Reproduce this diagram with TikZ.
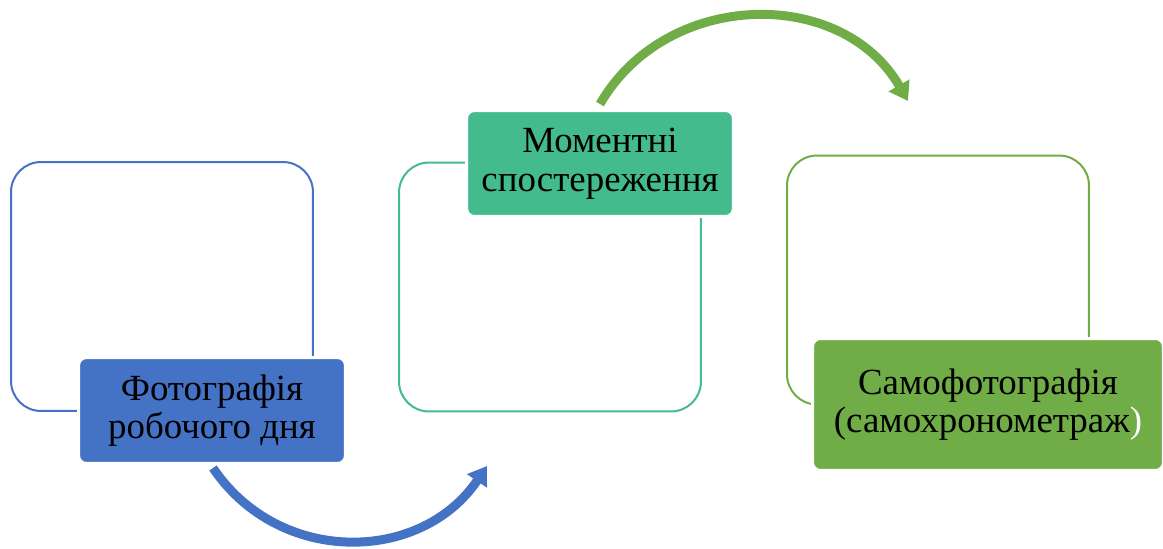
\documentclass[tikz,border=0pt]{standalone}
\usepackage{fontspec}
\setmainfont{Liberation Serif}
\usetikzlibrary{arrows.meta,positioning,calc}
\definecolor{blueA}{HTML}{4472C4}
\definecolor{tealA}{HTML}{44BB8C}
\definecolor{greenA}{HTML}{70AD47}

\begin{document}
\begin{tikzpicture}[x=0.02cm, y=-0.02cm,
    frame/.style={rectangle, rounded corners=0.6cm, line width=0.04cm,
      minimum width=6.04cm, minimum height=4.98cm},
    capbox/.style={rectangle, rounded corners=0.16cm, draw=white, line width=0.06cm,
      text=black, align=center, inner sep=0pt, font=\fontsize{21}{22}\selectfont},
    flow/.style={line width=0.18cm, looseness=1.1,
      -{Triangle[width=0.46cm, length=0.36cm]}}]
    \useasboundingbox (0,0) rectangle (1163,548);

    % Outline frames behind the captions
    \node[frame, draw=blueA] (frame1) at (162,286.5) {};
    \node[frame, draw=tealA] (frame2) at (550,287) {};
    \node[frame, draw=greenA] (frame3) at (938,280) {};

    % Captions
    \node[capbox, fill=blueA, minimum width=5.34cm, minimum height=2.12cm]
      (cap1) at (212,410.5) {Фотографія\\робочого дня};
    \node[capbox, fill=tealA, minimum width=5.34cm, minimum height=2.12cm]
      (cap2) at (600,163.5) {Моментні\\спостереження};
    \node[capbox, fill=greenA, minimum width=7.02cm, minimum height=2.64cm]
      (cap3) at (988,404.5) {Самофотографія\\(самохронометраж{\color{white})}};

    % Curved arrows
    \coordinate (blueEnd) at (487,466);
    \coordinate (greenEnd) at (908,101);
    \draw[flow, blueA] ($(cap1.south)+(1,3)$) to[out=-56, in=-124] (blueEnd);
    \draw[flow, greenA] ($(cap2.north)+(0,-5)$) to[out=60, in=120] (greenEnd);
\end{tikzpicture}
\end{document}
